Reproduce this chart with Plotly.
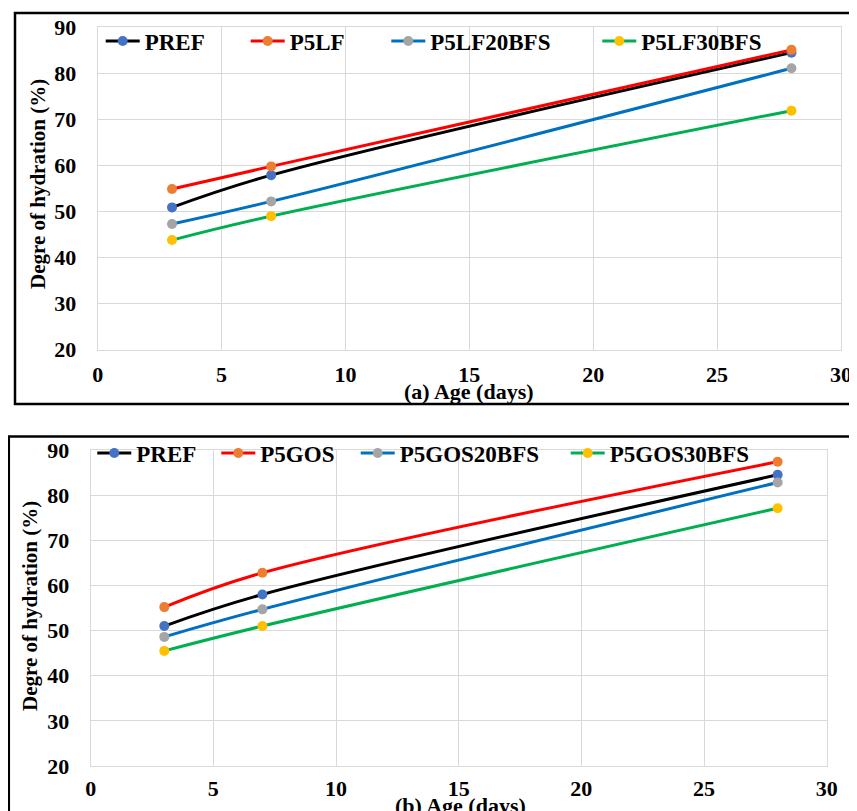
import plotly.graph_objects as go

# ---- data ----
ages = [3, 7, 28]

names_a = ["PREF", "P5LF", "P5LF20BFS", "P5LF30BFS"]
pref_a = [50.9, 57.9, 84.5]
p5lf = [54.9, 59.8, 85.1]
p5lf20 = [47.3, 52.2, 81.1]
p5lf30 = [43.8, 49.0, 71.9]

names_b = ["PREF", "P5GOS", "P5GOS20BFS", "P5GOS30BFS"]
pref_b = [51.0, 58.0, 84.5]
p5gos = [55.2, 62.8, 87.4]
p5gos20 = [48.6, 54.7, 82.8]
p5gos30 = [45.5, 51.0, 77.1]

x_ticks = [0, 5, 10, 15, 20, 25, 30]
y_ticks = [20, 30, 40, 50, 60, 70, 80, 90]

line_colors = ["#000000", "#FF0000", "#0070C0", "#00B050"]
marker_colors = ["#4472C4", "#ED7D31", "#A5A5A5", "#FFC000"]

W, H = 857, 811
OFF = 8  # page body margin offset
FONT = "Liberation Serif"


def px(x):
    return (x - OFF) / W


def py(y):
    return 1 - (y - OFF) / H


fig = go.Figure()

series_a = [pref_a, p5lf, p5lf20, p5lf30]
series_b = [pref_b, p5gos, p5gos20, p5gos30]

# legend marker centres (screen px)
legend_x_a = [121.7, 266.7, 407.3, 618.3]
legend_x_b = [113.3, 237.3, 376.7, 586.7]

for i, (nm, vals) in enumerate(zip(names_a, series_a)):
    fig.add_trace(go.Scatter(
        x=ages, y=vals, name=nm, mode="lines+markers",
        line=dict(color=line_colors[i], width=3, shape="spline"),
        marker=dict(color=marker_colors[i], size=10),
        xaxis="x", yaxis="y", legend="legend" if i == 0 else f"legend{i+1}",
    ))

for i, (nm, vals) in enumerate(zip(names_b, series_b)):
    fig.add_trace(go.Scatter(
        x=ages, y=vals, name=nm, mode="lines+markers",
        line=dict(color=line_colors[i], width=3, shape="spline"),
        marker=dict(color=marker_colors[i], size=10),
        xaxis="x2", yaxis="y2", legend=f"legend{i+5}",
    ))

tickfont = dict(family=FONT, size=22, color="#000000", weight="bold")
axis_common = dict(
    showgrid=True, gridcolor="#D9D9D9", gridwidth=1.3,
    showline=True, linecolor="#D9D9D9", linewidth=1.3, mirror=True,
    zeroline=False, ticks="", tickfont=tickfont,
)

legend_font = dict(family=FONT, size=23, color="#000000", weight="bold")
legends = {}
for i in range(4):
    key = "legend" if i == 0 else f"legend{i+1}"
    legends[key] = dict(
        x=px(legend_x_a[i] - 21), y=py(41), xanchor="left", yanchor="middle",
        bgcolor="rgba(0,0,0,0)", font=legend_font, orientation="h",
        itemwidth=34,
    )
for i in range(4):
    key = f"legend{i+5}"
    legends[key] = dict(
        x=px(legend_x_b[i] - 21), y=py(453), xanchor="left", yanchor="middle",
        bgcolor="rgba(0,0,0,0)", font=legend_font, orientation="h",
        itemwidth=34,
    )

fig.update_layout(
    width=W, height=H,
    margin=dict(l=0, r=0, t=0, b=0, pad=0, autoexpand=False),
    paper_bgcolor="white", plot_bgcolor="white",
    font=dict(family=FONT, color="#000000"),
    xaxis=dict(domain=[px(97.7), px(841)], range=[0, 30], tickvals=x_ticks,
               anchor="y", ticklabelstandoff=5, **axis_common),
    yaxis=dict(domain=[py(349.7), py(27.3)], range=[20, 90], tickvals=y_ticks,
               anchor="x", ticklabelstandoff=16, **axis_common),
    xaxis2=dict(domain=[px(90.7), px(826.7)], range=[0, 30], tickvals=x_ticks,
                anchor="y2", ticklabelstandoff=2, **axis_common),
    yaxis2=dict(domain=[py(766), py(450)], range=[20, 90], tickvals=y_ticks,
                anchor="x2", ticklabelstandoff=16, **axis_common),
    showlegend=True,
    **legends,
)

title_font = dict(family=FONT, size=22, color="#000000", weight="bold")
ytitle_font = dict(family=FONT, size=21, color="#000000", weight="bold")
fig.add_annotation(text="(a) Age (days)", x=px(469), y=py(391), xref="paper", yref="paper",
                   showarrow=False, font=title_font, xanchor="center", yanchor="middle")
fig.add_annotation(text="(b) Age (days)", x=px(460), y=py(805), xref="paper", yref="paper",
                   showarrow=False, font=title_font, xanchor="center", yanchor="middle")
fig.add_annotation(text="Degre of hydration (%)", x=px(38), y=py(184), xref="paper", yref="paper",
                   showarrow=False, font=ytitle_font, textangle=-90, xanchor="center", yanchor="middle")
fig.add_annotation(text="Degre of hydration (%)", x=px(30), y=py(606), xref="paper", yref="paper",
                   showarrow=False, font=ytitle_font, textangle=-90, xanchor="center", yanchor="middle")

# panel borders
fig.add_shape(type="rect", xref="paper", yref="paper",
              x0=px(15), y0=py(404), x1=px(880), y1=py(13),
              line=dict(color="#000000", width=2.5))
fig.add_shape(type="rect", xref="paper", yref="paper",
              x0=px(8.8), y0=py(840), x1=px(851.5), y1=py(436.5),
              line=dict(color="#000000", width=2.5))

fig.write_html("out.html")
